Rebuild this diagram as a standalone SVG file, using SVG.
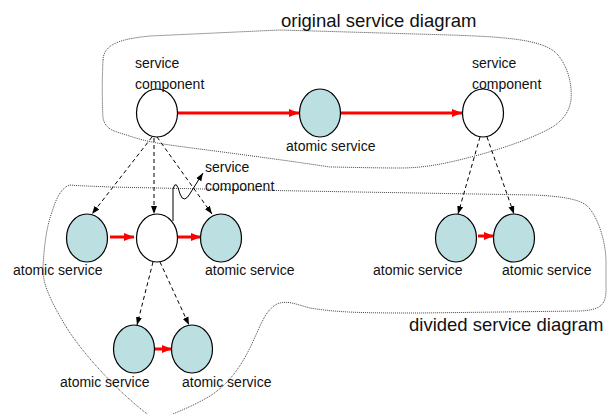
<svg xmlns="http://www.w3.org/2000/svg" width="608" height="414" viewBox="0 0 608 414">
  <style>
    text { font-family: "Liberation Sans", Arial, sans-serif; fill: #111; }
    .lbl { font-size: 14px; }
    .title { font-size: 18.5px; }
    .region { fill: none; stroke: #444; stroke-width: 1; stroke-dasharray: 1 1; }
    .atomic { fill: #bcdfe2; stroke: #000; stroke-width: 1.2; }
    .comp { fill: #fff; stroke: #000; stroke-width: 1.2; }
    .flow { stroke: #ff0000; stroke-width: 3; fill: none; marker-end: url(#redHead); }
    .split { stroke: #000; stroke-width: 1; stroke-dasharray: 4 3; fill: none; marker-end: url(#blackHead); }
    .pointer { stroke: #000; stroke-width: 1; fill: none; marker-end: url(#blackHead); }
  </style>
  <defs>
    <marker id="redHead" markerUnits="userSpaceOnUse" markerWidth="10" markerHeight="10" viewBox="0 0 10 10" refX="10" refY="5" orient="auto">
      <path d="M0,1 L10,5 L0,9 Z" fill="#ff0000"/>
    </marker>
    <marker id="blackHead" markerUnits="userSpaceOnUse" markerWidth="8" markerHeight="8" viewBox="0 0 8 8" refX="8" refY="4" orient="auto">
      <path d="M0,1 L8,4 L0,7 Z" fill="#000"/>
    </marker>
  </defs>

  <!-- region outlines -->
  <g id="regions">
    <path id="original-region" class="region" d="M103,60 C104,44 120,39 150,36 L280,30 L450,35 C510,37 545,40 558,55 C570,70 572,88 571,100 C569,114 560,124 545,131 C525,141 495,151 467,158 C440,165 420,168 400,168 C370,168 340,167 330,167 C290,161 260,157 230,153 C200,149 175,146 157,143 C140,140 130,136 120,133 C110,130 105,127 103,118 C102,100 102,80 103,60 Z"/>
    <path id="divided-region" class="region" d="M70,185 C80,186 90,186 110,187 L300,191 L533,195 C560,196 578,199 586,205 C595,212 605,235 606,260 L606,290 C606,305 600,310 580,311 L420,313 C370,313 340,313 310,308 C295,304 287,300 277,304 C266,310 262,322 255,337 C245,360 232,382 210,396 C195,405 180,411 168,416 L150,416 C125,398 85,358 65,325 C50,300 42,282 43,268 C44,245 47,225 52,212 C56,198 62,187 70,185 Z"/>
    <text class="title" x="281" y="27">original service diagram</text>
    <text class="title" x="409" y="331">divided service diagram</text>
  </g>

  <!-- connectors -->
  <g id="connectors">
    <line class="flow" x1="178" y1="113" x2="299" y2="113"/>
    <line class="flow" x1="341" y1="113" x2="462" y2="113"/>
    <line class="flow" x1="110" y1="237" x2="134" y2="237"/>
    <line class="flow" x1="178" y1="237" x2="201" y2="237"/>
    <line class="flow" x1="155" y1="349" x2="172" y2="349"/>
    <line class="flow" x1="478" y1="236" x2="494" y2="236"/>

    <line class="split" x1="152" y1="137" x2="92" y2="214"/>
    <line class="split" x1="154" y1="138" x2="154" y2="214"/>
    <line class="split" x1="157" y1="137" x2="212" y2="214"/>
    <line class="split" x1="153" y1="262" x2="137" y2="325"/>
    <line class="split" x1="160" y1="262" x2="189" y2="325"/>
    <line class="split" x1="480" y1="137" x2="458" y2="214"/>
    <line class="split" x1="487" y1="137" x2="514" y2="214"/>

    <path class="pointer" d="M173,221 L173,189 Q176,178 180,194 Q184,205 191,192 L203,173"/>
  </g>

  <!-- original service diagram -->
  <g id="sc-top-left">
    <ellipse class="comp" cx="157" cy="113" rx="20.5" ry="24"/>
    <text class="lbl" x="135" y="68">service</text>
    <text class="lbl" x="135" y="89">component</text>
  </g>
  <g id="as-top">
    <ellipse class="atomic" cx="320" cy="113" rx="20.5" ry="24"/>
    <text class="lbl" x="286" y="151">atomic service</text>
  </g>
  <g id="sc-top-right">
    <ellipse class="comp" cx="483" cy="113" rx="20.5" ry="24"/>
    <text class="lbl" x="472" y="68">service</text>
    <text class="lbl" x="472" y="89">component</text>
  </g>

  <!-- divided service diagram -->
  <g id="as-mid-left">
    <ellipse class="atomic" cx="87" cy="238" rx="20.5" ry="24"/>
    <text class="lbl" x="13" y="275">atomic service</text>
  </g>
  <g id="sc-mid">
    <ellipse class="comp" cx="157" cy="238" rx="20.5" ry="24"/>
    <text class="lbl" x="205" y="172">service</text>
    <text class="lbl" x="205" y="191">component</text>
  </g>
  <g id="as-mid-right">
    <ellipse class="atomic" cx="221" cy="238" rx="20.5" ry="24"/>
    <text class="lbl" x="205" y="275">atomic service</text>
  </g>
  <g id="as-bottom-left">
    <ellipse class="atomic" cx="134" cy="349" rx="20.5" ry="24"/>
    <text class="lbl" x="60" y="387">atomic service</text>
  </g>
  <g id="as-bottom-right">
    <ellipse class="atomic" cx="192" cy="349" rx="20.5" ry="24"/>
    <text class="lbl" x="182" y="387">atomic service</text>
  </g>
  <g id="as-right-1">
    <ellipse class="atomic" cx="456" cy="238" rx="20.5" ry="24"/>
    <text class="lbl" x="373" y="275">atomic service</text>
  </g>
  <g id="as-right-2">
    <ellipse class="atomic" cx="514" cy="238" rx="20.5" ry="24"/>
    <text class="lbl" x="502" y="275">atomic service</text>
  </g>
</svg>
